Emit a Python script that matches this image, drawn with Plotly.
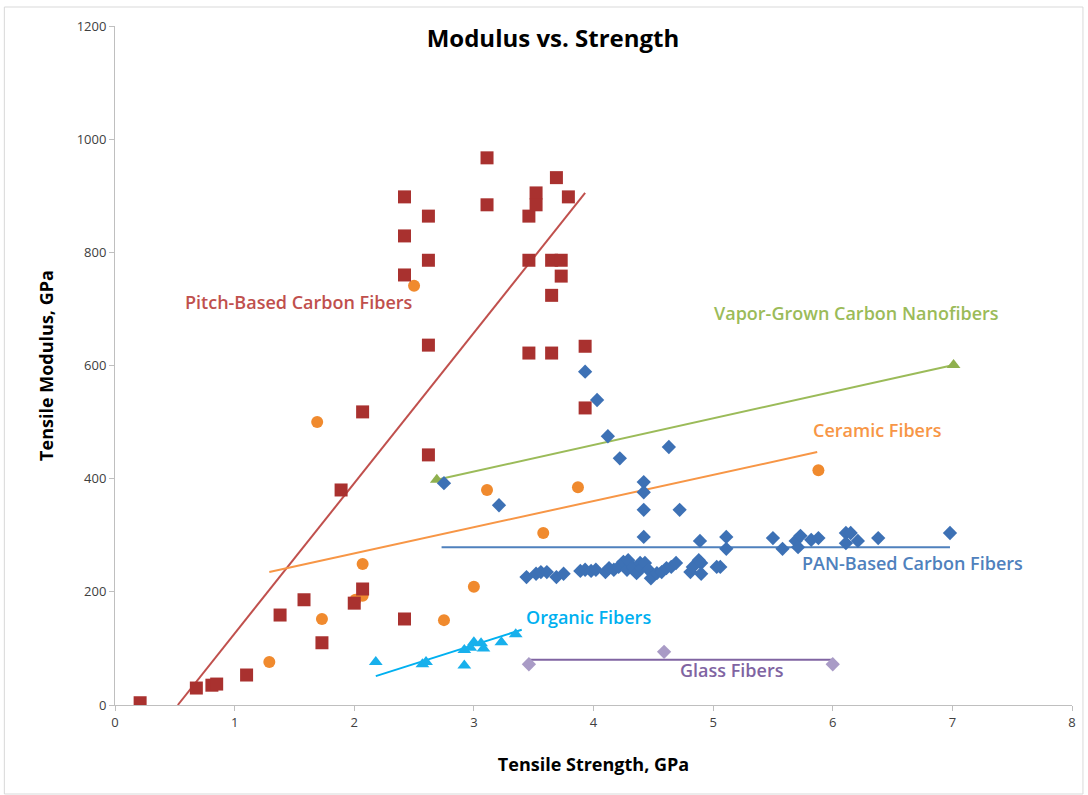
import plotly.graph_objects as go

# ---------------- data ----------------
pitch_x = [0.21, 0.68, 0.81, 0.85, 1.10, 1.38, 1.58, 1.73, 1.89, 2.00, 2.07, 2.07,
           2.42, 2.42, 2.42, 2.42, 2.62, 2.62, 2.62, 2.62, 3.11, 3.11, 3.46, 3.46,
           3.46, 3.52, 3.52, 3.69, 3.65, 3.73, 3.73, 3.65, 3.65, 3.79, 3.93, 3.93]
pitch_y = [4, 30, 35, 37, 53, 159, 186, 110, 380, 180, 518, 205,
           152, 898, 829, 760, 864, 786, 636, 442, 967, 884, 864, 786,
           622, 905, 884, 932, 786, 786, 758, 724, 622, 898, 634, 525]

ceramic_x = [1.29, 1.69, 1.73, 2.01, 2.07, 2.07, 2.50, 2.75, 3.00, 3.11, 3.58, 3.87, 5.88]
ceramic_y = [76, 500, 152, 186, 193, 249, 741, 150, 209, 380, 304, 385, 415]

vapor_x = [2.69, 7.01]
vapor_y = [398, 601]

organic_x = [2.18, 2.57, 2.60, 2.92, 2.92, 2.97, 3.00, 3.06, 3.08, 3.23, 3.35]
organic_y = [76, 72, 76, 70, 97, 101, 111, 109, 100, 111, 125]

glass_x = [3.46, 4.59, 6.00]
glass_y = [72, 94, 72]

pan_x = [3.93, 4.03, 4.12, 4.22, 4.63, 2.75, 3.21, 4.42, 4.42, 4.42, 4.72, 4.42,
         3.44, 3.52, 3.56, 3.61, 3.69, 3.75, 3.89, 3.93, 3.98, 4.02, 4.10, 4.13,
         4.17, 4.21, 4.25, 4.28, 4.29, 4.33, 4.36, 4.39, 4.40, 4.43, 4.46, 4.48,
         4.53, 4.57, 4.61, 4.65, 4.69, 4.81, 4.83, 4.88, 4.90, 5.03, 4.89, 5.06,
         5.11, 5.11, 5.50, 5.58, 5.69, 5.71, 5.73, 5.82, 5.88, 6.11, 6.15, 6.11,
         6.21, 6.38, 6.98, 4.90]
pan_y = [589, 539, 475, 436, 456, 392, 353, 394, 376, 345, 345, 297,
         226, 232, 235, 235, 226, 232, 237, 239, 237, 239, 235, 242,
         239, 244, 253, 239, 256, 244, 233, 251, 242, 251, 239, 224,
         233, 235, 242, 244, 251, 235, 244, 256, 251, 244, 290, 244,
         297, 276, 295, 276, 290, 279, 299, 292, 295, 304, 304, 286,
         290, 295, 304, 232]

# trendline end points
pitch_trend_x = [0.525, 3.93]
pitch_trend_y = [0, 905]
ceramic_trend_x = [1.29, 5.87]
ceramic_trend_y = [235, 447]
vapor_trend_x = [2.69, 7.01]
vapor_trend_y = [398, 601]
organic_trend_x = [2.18, 3.40]
organic_trend_y = [51, 133]
glass_trend_x = [3.46, 6.00]
glass_trend_y = [80, 80]
pan_trend_x = [2.73, 6.98]
pan_trend_y = [279, 279]

x_ticks = [0, 1, 2, 3, 4, 5, 6, 7, 8]
y_ticks = [0, 200, 400, 600, 800, 1000, 1200]

labels = ["Pitch-Based Carbon Fibers", "Vapor-Grown Carbon Nanofibers", "Ceramic Fibers",
          "PAN-Based Carbon Fibers", "Organic Fibers", "Glass Fibers"]
label_x = [1.54, 6.20, 6.37, 6.67, 3.96, 5.16]
label_y = [712, 693, 486, 251, 156, 62]
label_colors = ["#C0504D", "#9BBB59", "#F79646", "#4F81BD", "#00B0F0", "#8064A2"]

# ---------------- figure ----------------
fig = go.Figure()

def line(x, y, color):
    fig.add_trace(go.Scatter(x=x, y=y, mode="lines", line=dict(color=color, width=2),
                             showlegend=False, hoverinfo="skip"))

def pts(x, y, color, symbol, size):
    fig.add_trace(go.Scatter(x=x, y=y, mode="markers",
                             marker=dict(color=color, symbol=symbol, size=size, line=dict(width=0)),
                             showlegend=False))

line(pitch_trend_x, pitch_trend_y, "#C0504D")
line(ceramic_trend_x, ceramic_trend_y, "#F79646")
line(vapor_trend_x, vapor_trend_y, "#9BBB59")
line(organic_trend_x, organic_trend_y, "#00B0F0")
line(glass_trend_x, glass_trend_y, "#8064A2")
line(pan_trend_x, pan_trend_y, "#4F81BD")

pts(glass_x, glass_y, "#A99BC6", "diamond", 11)
pts(organic_x, organic_y, "#18B0EC", "triangle-up", 12)
pts(vapor_x, vapor_y, "#8FB04E", "triangle-up", 12)
pts(pan_x, pan_y, "#3D71B5", "diamond", 11)
pts(ceramic_x, ceramic_y, "#F08A2E", "circle", 12)
pts(pitch_x, pitch_y, "#A9312F", "square", 13)

font_family = "Open Sans, Noto Sans, sans-serif"

for t, x, y, c in zip(labels, label_x, label_y, label_colors):
    fig.add_annotation(x=x, y=y, text=t, showarrow=False,
                       font=dict(family=font_family, size=18, color=c, weight=600),
                       xanchor="center", yanchor="middle")

# chart-area border (Excel style)
fig.add_shape(type="rect", xref="paper", yref="paper",
              x0=(4 - 115) / 960, x1=(1086 - 115) / 960,
              y0=(705 - 794) / 679, y1=(705 - 7) / 679,
              line=dict(color="#D9D9D9", width=1), fillcolor="rgba(0,0,0,0)", layer="below")

fig.update_layout(
    width=1088, height=795,
    margin=dict(l=115, r=13, t=26, b=90),
    paper_bgcolor="white", plot_bgcolor="white",
    title=dict(text="<b>Modulus vs. Strength</b>", x=553 / 1088, xanchor="center",
               y=1 - 39 / 795, yanchor="middle",
               font=dict(family=font_family, size=24, color="black")),
    xaxis=dict(range=[0, 8], tickvals=x_ticks, showgrid=False, zeroline=False,
               showline=True, linecolor="#BFBFBF", linewidth=1,
               ticks="outside", ticklen=5, tickcolor="#BFBFBF",
               tickfont=dict(family=font_family, size=13, color="#404040"),
               title=dict(text="<b>Tensile Strength, GPa</b>", standoff=28,
                          font=dict(family=font_family, size=18, color="black"))),
    yaxis=dict(range=[0, 1200], tickvals=y_ticks, showgrid=False, zeroline=False,
               showline=True, linecolor="#BFBFBF", linewidth=1,
               ticks="outside", ticklen=5, tickcolor="#BFBFBF",
               tickfont=dict(family=font_family, size=13, color="#404040"),
               title=dict(text="<b>Tensile Modulus, GPa</b>", standoff=18,
                          font=dict(family=font_family, size=18, color="black"))),
)

fig.write_html("out.html")
